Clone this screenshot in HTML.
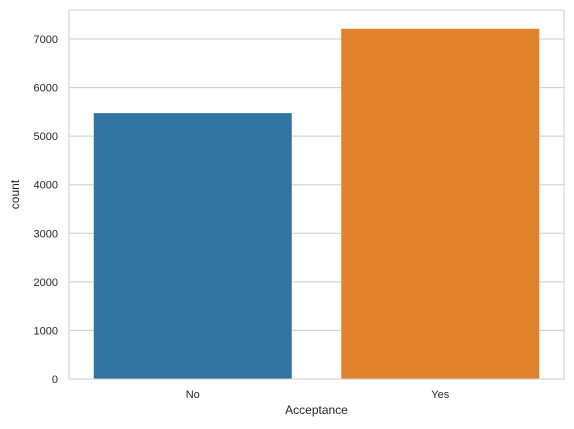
<!DOCTYPE html>
<html><head><meta charset="utf-8"><style>
body{margin:0;background:#fff;}
svg{display:block;font-family:"Liberation Sans","DejaVu Sans",sans-serif;}
</style></head><body>
<svg id="chart" width="574" height="429"></svg>
<script>
const categories = ["No", "Yes"];
const counts = [5474, 7210];
const yTicks = [0, 1000, 2000, 3000, 4000, 5000, 6000, 7000];
const colors = ["#3274a1", "#e1812c"];

const NS = "http://www.w3.org/2000/svg";
const svg = document.getElementById("chart");
const L = 69, R = 564, T = 10, B = 379;
const yMax = 7597;
function y(v){ return B - (v / yMax) * (B - T); }
const band = (R - L) / categories.length;
function xc(i){ return L + band * (i + 0.5); }
function mk(tag, attrs, parent){
  const e = document.createElementNS(NS, tag);
  for (const k in attrs) e.setAttribute(k, attrs[k]);
  (parent || svg).appendChild(e);
  return e;
}
// grid + y ticks
yTicks.forEach(t => {
  const g = mk("line", {x1: L, x2: R, y1: y(t), y2: y(t), stroke: "#cccccc", "stroke-width": 1});
  
  
  const tx = mk("text", {x: L - 11, y: y(t) + 4, "text-anchor": "end", "font-size": 11, fill: "#262626"});
  tx.textContent = t;
  
  
});
// bars
categories.forEach((c, i) => {
  const w = band * 0.8;
  const r = mk("rect", {x: xc(i) - w / 2, y: y(counts[i]), width: w, height: B - y(counts[i]), fill: colors[i]});
  
  
  const tx = mk("text", {x: xc(i), y: B + 19, "text-anchor": "middle", "font-size": 11, fill: "#262626"});
  tx.textContent = c;
  
  
});
// frame
const f = mk("rect", {x: L, y: T, width: R - L, height: B - T, fill: "none", stroke: "#cccccc", "stroke-width": 1});


const xl = mk("text", {x: (L + R) / 2, y: 414, "text-anchor": "middle", "font-size": 12, fill: "#262626"});
xl.textContent = "Acceptance";


const yl = mk("text", {x: 19, y: (T + B) / 2, "text-anchor": "middle", "font-size": 12, fill: "#262626", transform: "rotate(-90 19 " + (T + B) / 2 + ")"});
yl.textContent = "count";


</script>
</body></html>
